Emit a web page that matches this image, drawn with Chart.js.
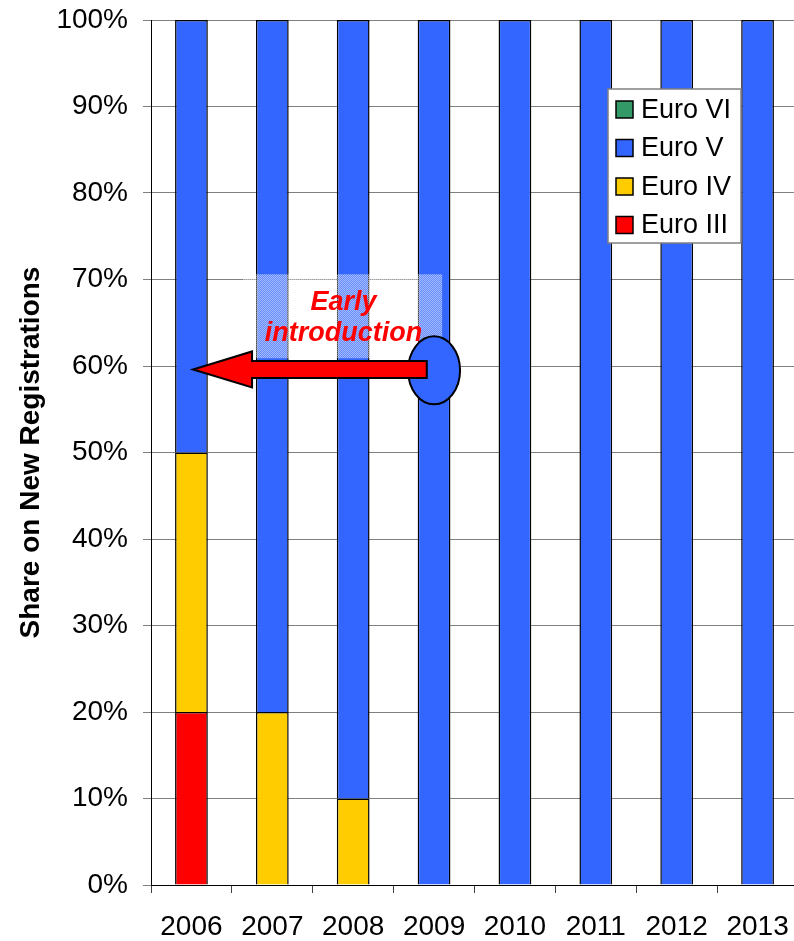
<!DOCTYPE html>
<html>
<head>
<meta charset="utf-8">
<script src="https://cdn.jsdelivr.net/npm/chart.js@4.4.1/dist/chart.umd.min.js"></script>
<style>
  html, body { margin: 0; padding: 0; background: #fff; overflow: hidden; }
  #wrap { width: 800px; height: 941px; }
</style>
</head>
<body>
<div id="wrap"><canvas id="c" width="800" height="941"></canvas></div>
<script>
// Registration shares by emission standard, per year
const years = ['2006', '2007', '2008', '2009', '2010', '2011', '2012', '2013'];
const euroIII = [20, 0, 0, 0, 0, 0, 0, 0];
const euroIV  = [30, 20, 10, 0, 0, 0, 0, 0];
const euroV   = [50, 80, 90, 100, 100, 100, 100, 100];
const euroVI  = [0, 0, 0, 0, 0, 0, 0, 0];
const yTicks  = [0, 10, 20, 30, 40, 50, 60, 70, 80, 90, 100];

const FONT = '"Liberation Sans", Arial, Helvetica, sans-serif';

// Callout: shaded note box, highlighted 2009 bar and arrow pointing back to 2006
const callout = {
  box: { x0: 0.64, x1: 3.1, y0: 60.9, y1: 70.6 },
  text: ['Early', 'introduction'],
  textAt: { x: 1.88, y: 65.8 },
  ellipse: { x: 3, y: 59.5, rx: 26, ry: 34 },
  arrow: { from: 2.91, to: 0.02, y: 59.6 }
};

function stipple() {
  const p = document.createElement('canvas');
  p.width = 2; p.height = 2;
  const g = p.getContext('2d');
  g.fillStyle = 'rgba(255,255,255,0.55)';
  g.fillRect(0, 0, 1, 1); g.fillRect(1, 1, 1, 1);
  g.fillStyle = 'rgba(255,255,255,0.25)';
  g.fillRect(1, 0, 1, 1); g.fillRect(0, 1, 1, 1);
  return p;
}

const calloutPlugin = {
  id: 'callout',
  afterDatasetsDraw(chart) {
    const { ctx, scales: { x, y } } = chart;
    ctx.save();
    // note box
    const bx0 = x.getPixelForValue(callout.box.x0), bx1 = x.getPixelForValue(callout.box.x1);
    const by1 = y.getPixelForValue(callout.box.y1), by0 = y.getPixelForValue(callout.box.y0);
    ctx.fillStyle = ctx.createPattern(stipple(), 'repeat');
    ctx.fillRect(bx0, by1, bx1 - bx0, by0 - by1);

    // note text
    ctx.fillStyle = '#ff0000';
    ctx.font = 'italic bold 27px ' + FONT;
    ctx.textAlign = 'center';
    ctx.textBaseline = 'alphabetic';
    const tx = x.getPixelForValue(callout.textAt.x);
    const ty = y.getPixelForValue(callout.textAt.y);
    ctx.fillText(callout.text[0], tx, ty - 6);
    ctx.fillText(callout.text[1], tx, ty + 25);

    // ellipse on the 2009 bar
    const ex = x.getPixelForValue(callout.ellipse.x), ey = y.getPixelForValue(callout.ellipse.y);
    ctx.beginPath();
    ctx.ellipse(ex, ey, callout.ellipse.rx, callout.ellipse.ry, 0, 0, Math.PI * 2);
    ctx.fillStyle = '#3366ff';
    ctx.fill();
    ctx.lineWidth = 2;
    ctx.strokeStyle = '#000';
    ctx.stroke();

    // arrow
    const ax0 = x.getPixelForValue(callout.arrow.from);
    const ax1 = x.getPixelForValue(callout.arrow.to);
    const ay = y.getPixelForValue(callout.arrow.y);
    const shaftH = 8.5, headH = 18, headL = 59;
    ctx.beginPath();
    ctx.moveTo(ax0, ay - shaftH);
    ctx.lineTo(ax1 + headL, ay - shaftH);
    ctx.lineTo(ax1 + headL, ay - headH);
    ctx.lineTo(ax1, ay);
    ctx.lineTo(ax1 + headL, ay + headH);
    ctx.lineTo(ax1 + headL, ay + shaftH);
    ctx.lineTo(ax0, ay + shaftH);
    ctx.closePath();
    ctx.fillStyle = '#ff0000';
    ctx.fill();
    ctx.lineWidth = 2;
    ctx.lineJoin = 'miter';
    ctx.strokeStyle = '#000';
    ctx.stroke();
    ctx.restore();
  }
};

// Boxed legend inside the plot, top series first
const legendBox = {
  id: 'legendBox',
  afterDraw(chart) {
    const { ctx } = chart;
    const L = { x: 608, y: 89, w: 133, h: 154, first: 109.5, step: 38.5 };
    ctx.save();
    ctx.fillStyle = '#fff';
    ctx.fillRect(L.x, L.y, L.w, L.h);
    ctx.lineWidth = 1.5;
    ctx.strokeStyle = '#808080';
    ctx.strokeRect(L.x, L.y, L.w, L.h);
    const items = chart.data.datasets.slice().reverse();
    ctx.font = '27px ' + FONT;
    ctx.textAlign = 'left';
    ctx.textBaseline = 'middle';
    items.forEach((ds, i) => {
      const cy = L.first + i * L.step;
      ctx.fillStyle = ds.backgroundColor;
      ctx.fillRect(616, cy - 8.5, 17, 17);
      ctx.lineWidth = 1.5;
      ctx.strokeStyle = '#000';
      ctx.strokeRect(616, cy - 8.5, 17, 17);
      ctx.fillStyle = '#000';
      ctx.fillText(ds.label, 641, cy + 1);
    });
    ctx.restore();
  }
};

const mk = (label, data, color) => ({
  label, data, backgroundColor: color, borderColor: '#000', borderWidth: 1.5,
  barPercentage: 0.405, categoryPercentage: 1
});

new Chart(document.getElementById('c'), {
  type: 'bar',
  data: {
    labels: years,
    datasets: [
      mk('Euro III', euroIII, '#ff0000'),
      mk('Euro IV', euroIV, '#ffcc00'),
      mk('Euro V', euroV, '#3366ff'),
      mk('Euro VI', euroVI, '#339966')
    ]
  },
  options: {
    responsive: false,
    animation: false,
    events: [],
    layout: { padding: { top: 20, right: 2, left: 0, bottom: 0 } },
    plugins: { legend: { display: false }, tooltip: { enabled: false } },
    scales: {
      x: {
        stacked: true,
        grid: { offset: true, drawOnChartArea: false, drawTicks: true, tickLength: 8, color: '#404040', lineWidth: 1 },
        border: { color: '#000', width: 1 },
        ticks: { color: '#000', font: { family: FONT, size: 28 }, padding: 17, maxRotation: 0 },
        afterFit(s) { s.height = 56; s.paddingLeft = 0; s.paddingRight = 0; }
      },
      y: {
        stacked: true,
        min: 0, max: 100,
        afterBuildTicks(s) { s.ticks = yTicks.map(v => ({ value: v })); },
        grid: { color: '#808080', lineWidth: 1, tickLength: 8 },
        border: { color: '#000', width: 1 },
        ticks: { color: '#000', font: { family: FONT, size: 28 }, padding: 15, callback: v => v + '%' },
        title: {
          display: true, text: 'Share on New Registrations', color: '#000',
          font: { family: FONT, size: 28, weight: 'bold' }, padding: { top: 14, bottom: 0 }
        },
        afterFit(s) { s.width = 151; s.paddingTop = 0; s.paddingBottom = 0; }
      }
    }
  },
  plugins: [calloutPlugin, legendBox]
});
</script>
</body>
</html>
